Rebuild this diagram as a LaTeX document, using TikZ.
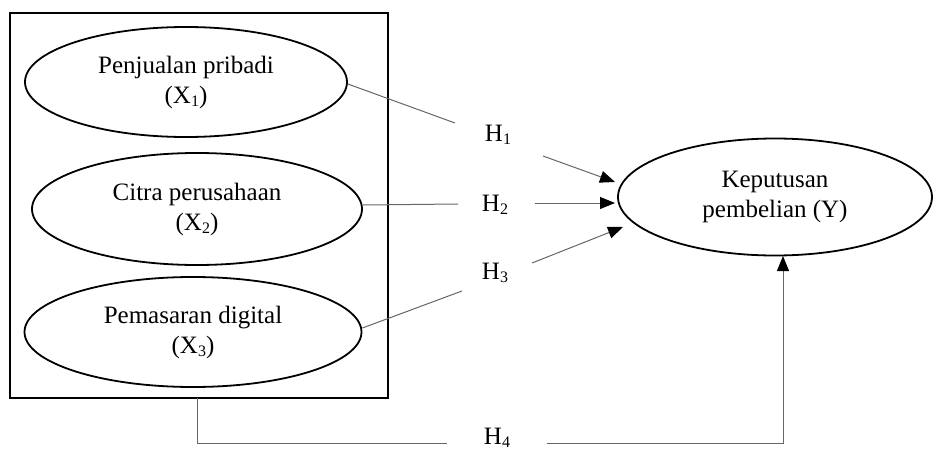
\documentclass[tikz,border=0pt]{standalone}
\usepackage{fontspec}
\setmainfont{Liberation Serif}
\usetikzlibrary{shapes.geometric,arrows.meta}
\newcommand\sbs[1]{\raisebox{-0.3ex}{\fontsize{8}{8}\selectfont #1}}
\tikzset{
  var/.style={draw=black,line width=0.9pt,ellipse,inner sep=0pt,align=center,font=\fontsize{12.5}{15}\selectfont},
  hlab/.style={inner sep=0pt,font=\fontsize{12.5}{15}\selectfont},
  conn/.style={draw=black!60,line width=0.5pt},
  arr/.style={conn,-{Triangle[length=7.5pt,width=6pt,color=black]}},
}
\begin{document}
\begin{tikzpicture}[x=0.5pt,y=-0.5pt]
\useasboundingbox (0,0) rectangle (934,450);
\draw[line width=1.3pt] (10,13) rectangle (388,398);
\node[var,minimum width=161pt,minimum height=55pt] (e1) at (186,82) {Penjualan pribadi\\(X\sbs{1})};
\node[var,minimum width=165pt,minimum height=56pt] (e2) at (197,209) {Citra perusahaan\\(X\sbs{2})};
\node[var,minimum width=168.5pt,minimum height=55pt] (e3) at (193,332) {Pemasaran digital\\(X\sbs{3})};
\node[var,minimum width=157pt,minimum height=58.5pt] (y) at (775,197) {Keputusan\\pembelian (Y)};
\node[hlab] (h1) at (498,135) {H\sbs{1}};
\node[hlab] (h2) at (495,205) {H\sbs{2}};
\node[hlab] (h3) at (495,273) {H\sbs{3}};
\node[hlab] (h4) at (497,438) {H\sbs{4}};
% connector end points
\coordinate (a1) at (455,123);
\coordinate (a2) at (458,204);
\coordinate (a3) at (462,291);
\coordinate (b1) at (543,156);
\coordinate (b2) at (535,203);
\coordinate (b3) at (532,263);
\coordinate (t1) at (615,182);
\coordinate (t2) at (615,203);
\coordinate (t3) at (623,227);
\coordinate (boxb) at (197,398);
\coordinate (c4) at (197,443);
\coordinate (d4) at (447,443);
\coordinate (f4) at (547,443);
\coordinate (g4) at (783,443);
\coordinate (t4) at (783,256);
\draw[conn] (e1.east) ++(0,2) -- (a1);
\draw[conn] (e2.east) ++(0,-4) -- (a2);
\draw[conn] (e3.east) ++(0,-4) -- (a3);
\draw[arr] (b1) -- (t1);
\draw[arr] (b2) -- (t2);
\draw[arr] (b3) -- (t3);
\draw[conn] (boxb) -- (c4) -- (d4);
\draw[arr] (f4) -- (g4) -- (t4);
\end{tikzpicture}
\end{document}
